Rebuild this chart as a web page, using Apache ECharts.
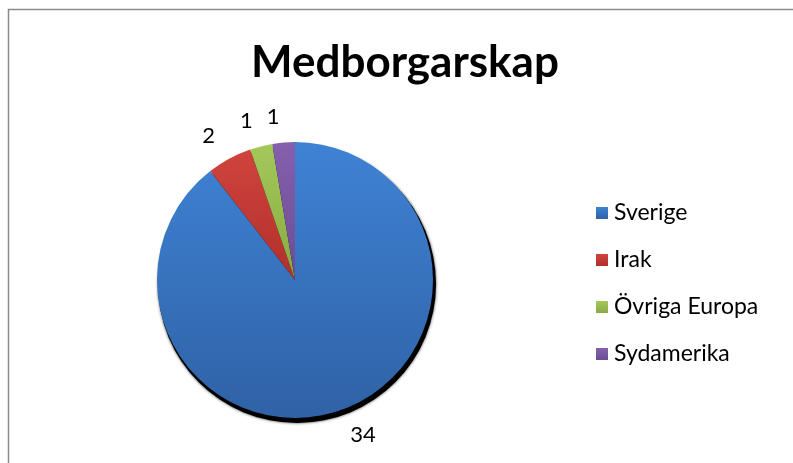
<!DOCTYPE html>
<html>
<head>
<meta charset="utf-8">
<script src="https://cdn.jsdelivr.net/npm/echarts@6/dist/echarts.min.js"></script>
<style>
  html, body { margin: 0; padding: 0; background: #fff; }
  #chart { width: 793px; height: 463px; }
</style>
</head>
<body>
<div id="chart"></div>
<script>
const categories = ['Sverige', 'Irak', 'Övriga Europa', 'Sydamerika']
const values = [34, 2, 1, 1]
const colorPairs = [
  ['#3f82d4', '#2f62a6'],
  ['#d0433d', '#b1302c'],
  ['#a4c85a', '#88aa43'],
  ['#8560ad', '#6c4c95'],
]

const fontFamily = 'Lato, "Open Sans", sans-serif'
const total = values.reduce((a, b) => a + b, 0)

const chart = echarts.init(document.getElementById('chart'))

const grad = (pair) => new echarts.graphic.LinearGradient(0, 0, 0, 1, [
  { offset: 0, color: pair[0] },
  { offset: 1, color: pair[1] },
])

chart.setOption({
  animation: false,
  title: {
    text: 'Medborgarskap',
    left: 400,
    textAlign: 'center',
    top: 36,
    textStyle: { fontFamily, fontSize: 44, fontWeight: 'bold', color: '#000' },
  },
  legend: {
    orient: 'vertical',
    left: 591,
    top: 196,
    itemWidth: 12,
    itemHeight: 12,
    itemGap: 23,
    icon: 'rect',
    textStyle: { fontFamily, fontSize: 23, lineHeight: 24, color: '#000', padding: [0, 0, 0, 1] },
    data: categories,
  },
  graphic: [{
    type: 'rect',
    shape: { x: 8.5, y: 9.5, width: 800, height: 470 },
    style: { fill: 'none', stroke: '#8a8a8a', lineWidth: 1.5 },
    silent: true,
  }],
  series: [
    {
      // drop shadow under the pie
      type: 'pie',
      silent: true,
      center: [297, 284],
      radius: 139,
      label: { show: false },
      labelLine: { show: false },
      itemStyle: { color: '#000', shadowColor: 'rgba(0,0,0,0.8)', shadowBlur: 3 },
      data: [{ name: '', value: total }],
    },
    {
      type: 'pie',
      center: [295, 280],
      radius: 138,
      startAngle: 90,
      clockwise: true,
      avoidLabelOverlap: false,
      label: {
        show: true,
        position: 'outside',
        formatter: '{c}',
        fontFamily,
        fontSize: 22,
        color: '#000',
        distanceToLabelLine: 2,
      },
      labelLine: { show: false, length: 26, length2: 0 },
      data: categories.map((name, i) => ({
        name,
        value: values[i],
        itemStyle: { color: grad(colorPairs[i]) },
      })),
    },
  ],
})
</script>
</body>
</html>
